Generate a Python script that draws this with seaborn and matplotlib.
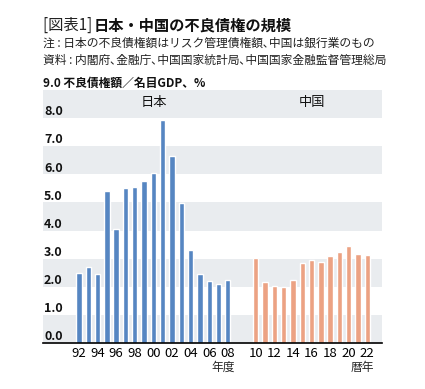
import matplotlib
matplotlib.use("Agg")
import matplotlib.pyplot as plt
import matplotlib.transforms as mtransforms
import numpy as np
import pandas as pd
import seaborn as sns

# ---- data ----
japan_years = ["92", "93", "94", "95", "96", "97", "98", "99", "00", "01",
               "02", "03", "04", "05", "06", "07", "08"]
japan_values = [2.5, 2.7, 2.45, 5.4, 4.05, 5.5, 5.55, 5.75, 6.05, 7.95,
                6.65, 4.97, 3.3, 2.45, 2.2, 2.1, 2.25]
china_years = ["10", "11", "12", "13", "14", "15", "16", "17", "18", "19",
               "20", "21", "22"]
china_values = [3.02, 2.17, 2.03, 2.0, 2.25, 2.85, 2.95, 2.88, 3.1, 3.24,
                3.45, 3.17, 3.13]
y_ticks = [0, 1, 2, 3, 4, 5, 6, 7, 8]
title_prefix = "[図表1] "
title_main = "日本・中国の不良債権の規模"
note1 = "注 : 日本の不良債権額はリスク管理債権額､中国は銀行業のもの"
note2 = "資料 : 内閣府､金融庁､中国国家統計局､中国国家金融監督管理総局"
ylabel = "9.0 不良債権額／名目GDP、%"

sns.set_theme(style="white")
plt.rcParams['font.family'] = ['Noto Sans CJK JP', 'DejaVu Sans']

BLUE = "#5686c2"
ORANGE = "#eca283"
BAND = "#e9ecef"

gap = 2
jp_pos = list(range(len(japan_years)))
cn_pos = [len(japan_years) + gap + i for i in range(len(china_years))]
df = pd.DataFrame({
    "pos": jp_pos + cn_pos,
    "value": japan_values + china_values,
    "country": ["日本"] * len(japan_values) + ["中国"] * len(china_values),
})

fig = plt.figure(figsize=(4.25, 3.89), dpi=100)
ax = fig.add_axes([43 / 425, 46 / 389, (382 - 43) / 425, (343 - 90) / 389])

for lo in [0, 2, 4, 6, 8]:
    ax.axhspan(lo, lo + 1, color=BAND, lw=0, zorder=0)

sns.barplot(data=df, x="pos", y="value", hue="country", native_scale=True,
            dodge=False, width=0.58, palette={"日本": BLUE, "中国": ORANGE},
            saturation=1, legend=False, ax=ax, zorder=3)

ax.set_xlim(-3.87, 32.58)
ax.set_ylim(0, 9)
for s in ["top", "right", "left"]:
    ax.spines[s].set_visible(False)
ax.spines["bottom"].set_color("black")
ax.spines["bottom"].set_linewidth(1.2)
ax.spines["bottom"].set_zorder(5)
ax.set_xlabel("")
ax.set_ylabel("")
ax.set_yticks([])

tick_pos = jp_pos[::2] + cn_pos[::2]
tick_lab = japan_years[::2] + china_years[::2]
ax.set_xticks(tick_pos)
ax.set_xticklabels(tick_lab, fontsize=9.5)
ax.tick_params(axis="x", length=0, pad=3, colors="black")

ytrans = mtransforms.blended_transform_factory(ax.transAxes, ax.transData)
for v in y_ticks:
    ax.text(0.003, v + 0.1, f"{v:.1f}", transform=ytrans, ha="left",
            va="baseline", fontsize=9, fontweight="bold", color="#111111",
            zorder=6)
ax.text(0.0, 9 + 0.1, ylabel, transform=ytrans, ha="left", va="baseline",
        fontsize=8.5, fontweight="bold", color="#111111", clip_on=False)

ax.text(np.mean(jp_pos), 8.55, "日本", ha="center", va="center", fontsize=9.5,
        color="#111111")
ax.text(np.mean(cn_pos), 8.55, "中国", ha="center", va="center", fontsize=9.5,
        color="#111111")

xtrans = mtransforms.blended_transform_factory(ax.transData, ax.transAxes)
ax.text(jp_pos[-1] + 0.8, -0.095, "年度", transform=xtrans, ha="right",
        va="center", fontsize=8.5, clip_on=False)
ax.text(cn_pos[-1] + 0.75, -0.095, "暦年", transform=xtrans, ha="right",
        va="center", fontsize=8.5, clip_on=False)

t1 = fig.text(43 / 425, 1 - 25 / 389, title_prefix, ha="left", va="center",
              fontsize=11, color="#222222")
fig.canvas.draw()
bb = t1.get_window_extent(renderer=fig.canvas.get_renderer())
fig.text(bb.x1 / fig.bbox.width - 0.004, 1 - 25 / 389, title_main, ha="left",
         va="center", fontsize=11, fontweight="bold", color="#111111")
fig.text(43 / 425, 1 - 43 / 389, note1, ha="left", va="center", fontsize=8.5,
         color="#222222")
fig.text(43 / 425, 1 - 60 / 389, note2, ha="left", va="center", fontsize=8.5,
         color="#222222")

fig.savefig("out.png", dpi=100, facecolor="white")
